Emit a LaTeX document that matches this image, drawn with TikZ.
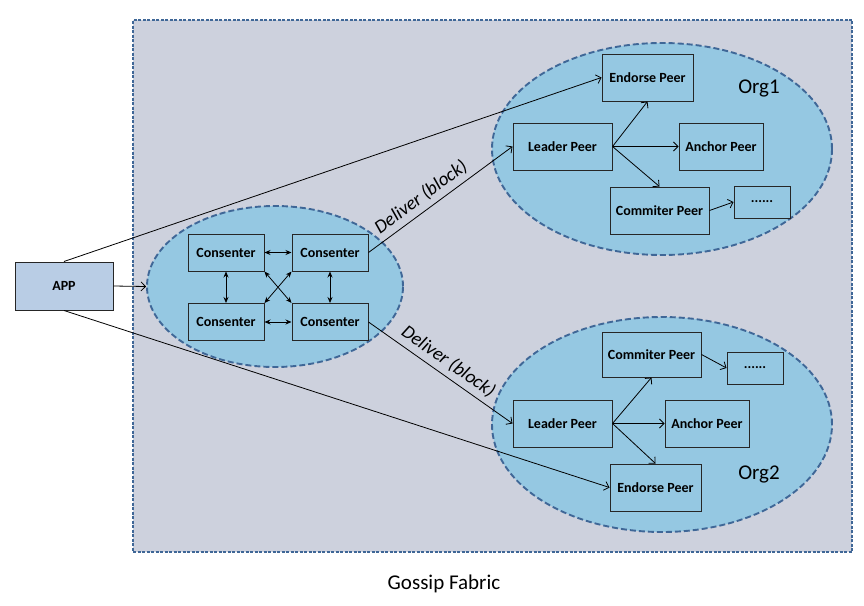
\documentclass[tikz,border=0pt]{standalone}
\usepackage{fontspec}
\setmainfont{Carlito}
\usetikzlibrary{positioning,arrows,arrows.meta,shapes.geometric}

\definecolor{fabricbg}{HTML}{CDD1DD}
\definecolor{dashblue}{HTML}{3F6797}
\definecolor{orgfill}{HTML}{95C8E2}
\definecolor{appfill}{HTML}{B9CDE5}

\begin{document}
\begin{tikzpicture}[x=1pt,y=-1pt,>={Straight Barb[length=4.5pt,width=9pt]},line width=0.8pt,
    peer/.style={rectangle,draw=black!85,fill=orgfill,line width=1pt,minimum height=47pt,
        inner sep=0pt,font=\fontsize{14}{16}\selectfont\bfseries},
    cons/.style={peer,minimum width=76pt,minimum height=37pt},
    org/.style={ellipse,draw=dashblue,fill=orgfill,line width=1.9pt,dash pattern=on 6pt off 3pt},
    orglabel/.style={font=\fontsize{21}{24}\selectfont},
    talk/.style={{Stealth[length=6pt,width=5pt]}-{Stealth[length=6pt,width=5pt]}},
    deliver/.style={font=\fontsize{19}{21}\selectfont\itshape,sloped,above,inner sep=5pt}]

\useasboundingbox (0,0) rectangle (864,605);

% fabric area
\node[rectangle,draw=dashblue,fill=fabricbg,line width=1.2pt,dash pattern=on 3pt off 1.5pt,
    minimum width=719pt,minimum height=532pt] (fabric) at (492.5,286) {};
\node[font=\fontsize{21}{24}\selectfont] (gossip) at (444,584) {Gossip Fabric};

% app
\node[peer,fill=appfill,minimum width=98pt,minimum height=48pt] (app) at (64,286) {APP};

% ordering service
\node[org,minimum width=256pt,minimum height=161pt] (order) at (275,286.5) {};
\node[cons] (c1) at (226,252.5) {Consenter};
\node[cons] (c2) at (330,252.5) {Consenter};
\node[cons] (c3) at (226,322) {Consenter};
\node[cons] (c4) at (330,322) {Consenter};

% Org1
\node[org,minimum width=340pt,minimum height=212pt] (org1) at (662,149) {};
\node[orglabel] (org1name) at (759,88) {Org1};
\node[peer,minimum width=91pt] (endorse1) at (647.5,77.5) {Endorse Peer};
\node[peer,minimum width=99pt] (leader1) at (562.5,146.5) {Leader Peer};
\node[peer,minimum width=84pt] (anchor1) at (721,146.5) {Anchor Peer};
\node[peer,minimum width=99pt] (commit1) at (659.5,210.5) {Commiter Peer};
\node[peer,minimum width=56pt,minimum height=32pt] (more1) at (762,202) {......};

% Org2
\node[org,minimum width=340pt,minimum height=215pt] (org2) at (662,424.5) {};
\node[orglabel] (org2name) at (759,474) {Org2};
\node[peer,minimum width=99pt,minimum height=45pt] (commit2) at (651.5,354.5) {Commiter Peer};
\node[peer,minimum width=56pt,minimum height=32pt] (more2) at (755,368) {......};
\node[peer,minimum width=99pt] (leader2) at (562.5,423.5) {Leader Peer};
\node[peer,minimum width=84pt] (anchor2) at (707,423.5) {Anchor Peer};
\node[peer,minimum width=91pt] (endorse2) at (655.5,487.5) {Endorse Peer};

% app links
\draw[->] (app.east) -- (order.west);
\draw[->] (app.north) -- (endorse1.west);
\draw[->] (app.south) -- (endorse2.west);

% consenters talk to each other
\draw[talk] (c1) -- (c2);
\draw[talk] (c3) -- (c4);
\draw[talk] (c1) -- (c3);
\draw[talk] (c2) -- (c4);
\draw[talk] (c1.south east) -- (c4.north west);
\draw[talk] (c2.south west) -- (c3.north east);

% blocks to the leaders
\draw[->] (c2.east) -- node[deliver,pos=0.42] {Deliver (block)} (leader1.west);
\draw[->] (c4.east) -- node[deliver,pos=0.5] {Deliver (block)} (leader2.west);

% inside the orgs
\draw[->] (leader1.east) -- (endorse1.south);
\draw[->] (leader1.east) -- (anchor1.west);
\draw[->] (leader1.east) -- (commit1.north);
\draw[->] (commit1.east) -- (more1.west);
\draw[->] (leader2.east) -- (commit2.south);
\draw[->] (leader2.east) -- (anchor2.west);
\draw[->] (leader2.east) -- (endorse2.north);
\draw[->] (commit2.east) -- (more2.west);

\end{tikzpicture}
\end{document}
